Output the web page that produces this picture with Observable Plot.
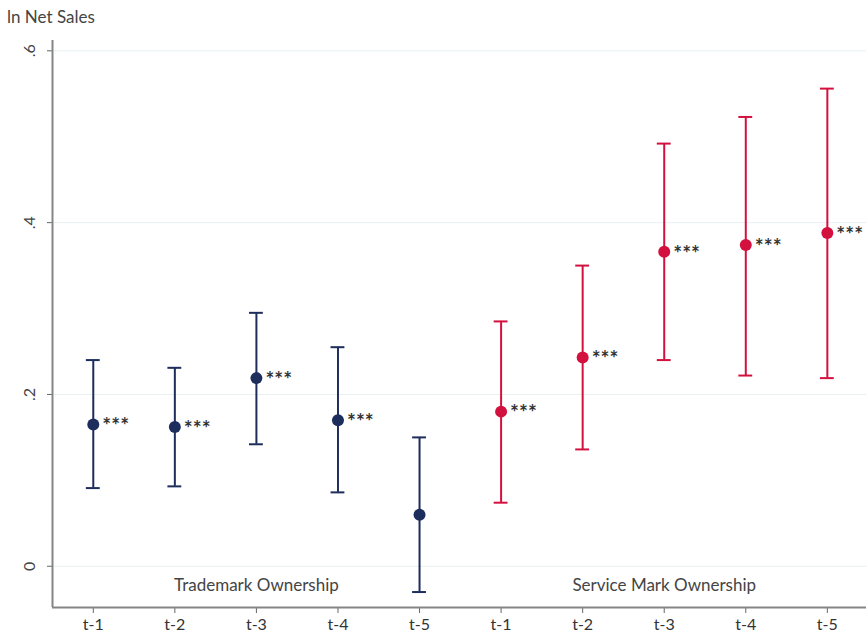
<!DOCTYPE html>
<html><head><meta charset="utf-8">
<script src="https://cdn.jsdelivr.net/npm/d3@7"></script>
<script src="https://cdn.jsdelivr.net/npm/@observablehq/plot@0.6"></script>
<style>
body{margin:0;background:#fff;font-family:Lato,"Open Sans",sans-serif;}
#title{height:30px;font-size:17px;color:#444;padding-left:7px;line-height:34px;}
</style></head><body>
<div id="title">ln Net Sales</div>
<div id="chart"></div>
<script>
const periods = ["t-1","t-2","t-3","t-4","t-5"];
const groups = ["Trademark Ownership","Service Mark Ownership"];
const tmEst = [0.165,0.162,0.219,0.170,0.060];
const tmLo  = [0.091,0.093,0.142,0.086,-0.030];
const tmHi  = [0.240,0.231,0.295,0.255,0.150];
const tmSig = ["***","***","***","***",""];
const smEst = [0.180,0.243,0.366,0.374,0.388];
const smLo  = [0.074,0.136,0.240,0.222,0.219];
const smHi  = [0.285,0.350,0.492,0.523,0.556];
const smSig = ["***","***","***","***","***"];
const yTicks = [0,0.2,0.4,0.6];

const rows = [];
periods.forEach((p,i)=>rows.push({i, p, g:groups[0], est:tmEst[i], lo:tmLo[i], hi:tmHi[i], sig:tmSig[i]}));
periods.forEach((p,i)=>rows.push({i:i+5, p, g:groups[1], est:smEst[i], lo:smLo[i], hi:smHi[i], sig:smSig[i]}));
const labels = rows.map(d=>d.p);
const capW = 0.085;
const colors = {[groups[0]]:"#1d2d5c",[groups[1]]:"#d3113f"};
const groupLabels = groups.map((g,k)=>({g, i: k*5+2}));

const chart = Plot.plot({
  width: 866, height: 612,
  marginLeft: 52, marginRight: 0, marginTop: 10, marginBottom: 35,
  style: {fontFamily: "Lato, 'Open Sans', sans-serif", color: "#333", background: "#fff"},
  x: {domain: [-0.5, 9.48], axis: null},
  y: {domain: [-0.048, 0.612], axis: null},
  color: {domain: groups, range: groups.map(g=>colors[g])},
  marks: [
    Plot.gridY(yTicks, {stroke: "#e8f0f2", strokeOpacity: 1, strokeWidth: 1}),
    Plot.axisY(yTicks, {tickSize: 5, tickPadding: 13, tickRotate: -90, fontSize: 16, stroke: "#666", label: null,
      tickFormat: d => d === 0 ? "0" : d3.format(".1f")(d).replace("0.", "."), fill: "#444"}),
    Plot.axisX(d3.range(10), {tickSize: 6, tickPadding: 5, fontSize: 16, fill: "#333", stroke:"#666", label: null,
      tickFormat: d => labels[d]}),
    Plot.ruleX([-0.5], {stroke: "#858585", strokeWidth: 2}),
    Plot.ruleY([-0.048], {stroke: "#858585", strokeWidth: 2}),
    Plot.ruleX(rows, {x: "i", y1: "lo", y2: "hi", stroke: "g", strokeWidth: 2}),
    Plot.ruleY(rows, {y: "lo", x1: d => d.i - capW, x2: d => d.i + capW, stroke: "g", strokeWidth: 2}),
    Plot.ruleY(rows, {y: "hi", x1: d => d.i - capW, x2: d => d.i + capW, stroke: "g", strokeWidth: 2}),
    Plot.dot(rows, {x: "i", y: "est", fill: "g", r: 6}),
    Plot.text(rows, {x: "i", y: "est", text: "sig", dx: 9, dy: 2, textAnchor: "start", fontSize: 21, fontWeight: "bold", fill: "#333"}),
    Plot.text(groupLabels, {x: "i", y: -0.022, text: "g", fontSize: 17, fill: "#444"})
  ]
});
document.getElementById("chart").appendChild(chart);
</script></body></html>
